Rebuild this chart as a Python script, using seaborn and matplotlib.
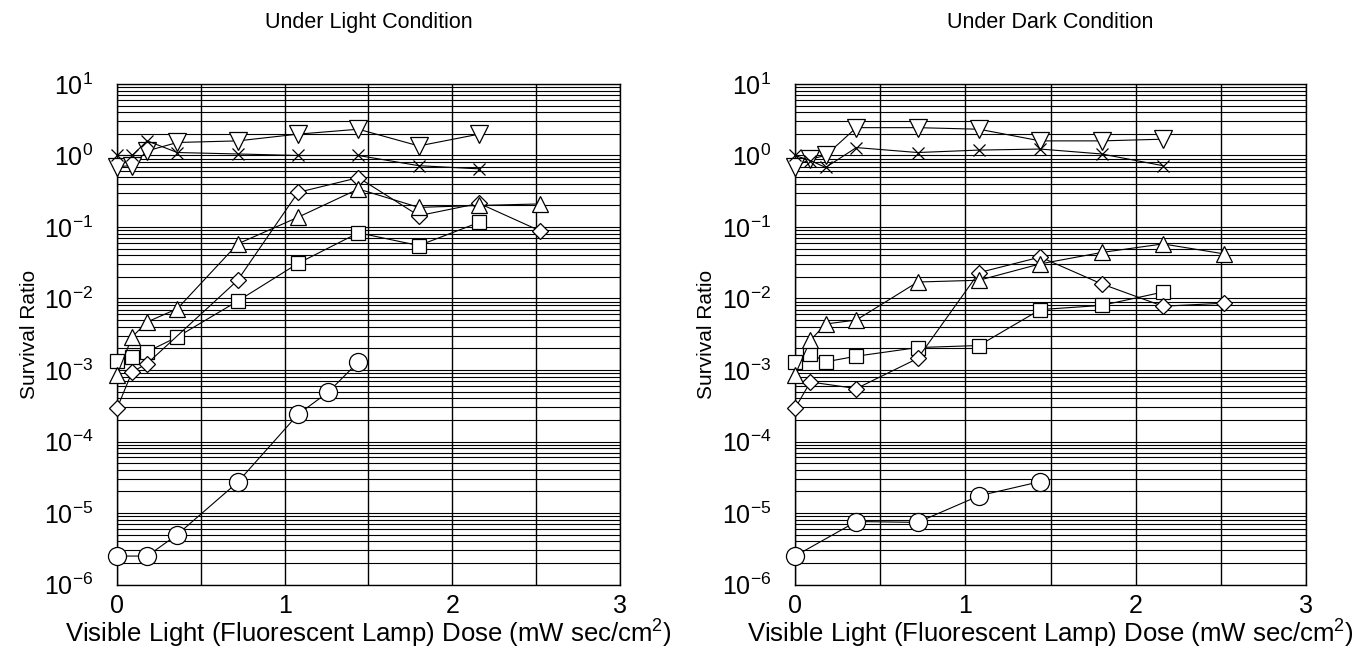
import numpy as np
import pandas as pd
import matplotlib
matplotlib.use('Agg')
import matplotlib.pyplot as plt
from matplotlib.ticker import FixedLocator, LogFormatterSciNotation, MultipleLocator, NullFormatter
import seaborn as sns

# ---- 数据----
# Under Light Condition
light_circle_x = [0, 0.18, 0.36, 0.72, 1.08, 1.26, 1.44]
light_circle_y = [2.5e-6, 2.5e-6, 5.0e-6, 2.7e-5, 2.4e-4, 4.9e-4, 1.3e-3]
light_square_x = [0, 0.09, 0.18, 0.36, 0.72, 1.08, 1.44, 1.80, 2.16]
light_square_y = [1.35e-3, 1.5e-3, 1.8e-3, 2.9e-3, 9.2e-3, 0.031, 0.083, 0.055, 0.116]
light_diamond_x = [0, 0.09, 0.18, 0.72, 1.08, 1.44, 1.80, 2.16, 2.52]
light_diamond_y = [2.9e-4, 9.4e-4, 1.23e-3, 0.018, 0.305, 0.49, 0.144, 0.214, 0.089]
light_tri_up_x = [0, 0.09, 0.18, 0.36, 0.72, 1.08, 1.44, 1.80, 2.16, 2.52]
light_tri_up_y = [8.5e-4, 2.9e-3, 4.7e-3, 7.2e-3, 0.058, 0.137, 0.34, 0.188, 0.2, 0.21]
light_tri_down_x = [0, 0.09, 0.18, 0.36, 0.72, 1.08, 1.44, 1.80, 2.16]
light_tri_down_y = [0.7, 0.72, 1.16, 1.52, 1.6, 1.99, 2.33, 1.36, 1.99]
light_cross_x = [0, 0.09, 0.18, 0.36, 0.72, 1.08, 1.44, 1.80, 2.16]
light_cross_y = [1.0, 1.0, 1.6, 1.1, 1.05, 1.0, 1.0, 0.72, 0.65]

# Under Dark Condition
dark_circle_x = [0, 0.36, 0.72, 1.08, 1.44]
dark_circle_y = [2.5e-6, 7.6e-6, 7.4e-6, 1.74e-5, 2.75e-5]
dark_square_x = [0, 0.09, 0.18, 0.36, 0.72, 1.08, 1.44, 1.80, 2.16]
dark_square_y = [1.3e-3, 1.7e-3, 1.3e-3, 1.56e-3, 2.06e-3, 2.2e-3, 7.0e-3, 8.0e-3, 0.0123]
dark_diamond_x = [0, 0.09, 0.36, 0.72, 1.08, 1.44, 1.80, 2.16, 2.52]
dark_diamond_y = [2.9e-4, 6.8e-4, 5.5e-4, 1.45e-3, 0.023, 0.038, 0.016, 7.8e-3, 8.6e-3]
dark_tri_up_x = [0, 0.09, 0.18, 0.36, 0.72, 1.08, 1.44, 1.80, 2.16, 2.52]
dark_tri_up_y = [8.5e-4, 2.6e-3, 4.4e-3, 5.0e-3, 0.017, 0.018, 0.0305, 0.044, 0.058, 0.042]
dark_tri_down_x = [0, 0.09, 0.18, 0.36, 0.72, 1.08, 1.44, 1.80, 2.16]
dark_tri_down_y = [0.7, 0.89, 1.0, 2.45, 2.45, 2.33, 1.6, 1.6, 1.69]
dark_cross_x = [0, 0.09, 0.18, 0.36, 0.72, 1.08, 1.44, 1.80, 2.16]
dark_cross_y = [1.0, 0.85, 0.68, 1.29, 1.1, 1.19, 1.23, 1.05, 0.72]

titles = ['Under Light Condition', 'Under Dark Condition']
x_label = 'Visible Light (Fluorescent Lamp) Dose (mW sec/cm$^2$)'
y_label = 'Survival Ratio'
y_major_ticks = [1e-6, 1e-5, 1e-4, 1e-3, 1e-2, 1e-1, 1e0, 1e1]

# marker, markersize
marker_style = {
    'circle': ('o', 13),
    'square': ('s', 10),
    'diamond': ('D', 8),
    'tri_up': ('^', 11.5),
    'tri_down': ('v', 12.5),
    'cross': ('x', 9),
}

light_series = {
    'circle': (light_circle_x, light_circle_y),
    'square': (light_square_x, light_square_y),
    'diamond': (light_diamond_x, light_diamond_y),
    'tri_up': (light_tri_up_x, light_tri_up_y),
    'tri_down': (light_tri_down_x, light_tri_down_y),
    'cross': (light_cross_x, light_cross_y),
}
dark_series = {
    'circle': (dark_circle_x, dark_circle_y),
    'square': (dark_square_x, dark_square_y),
    'diamond': (dark_diamond_x, dark_diamond_y),
    'tri_up': (dark_tri_up_x, dark_tri_up_y),
    'tri_down': (dark_tri_down_x, dark_tri_down_y),
    'cross': (dark_cross_x, dark_cross_y),
}

sns.set_theme(style='white')
plt.rcParams['font.family'] = ['Liberation Sans', 'DejaVu Sans']
plt.rcParams['mathtext.fontset'] = 'custom'
plt.rcParams['mathtext.rm'] = 'Liberation Sans'
plt.rcParams['mathtext.it'] = 'Liberation Sans:italic'
plt.rcParams['text.color'] = 'black'
plt.rcParams['axes.labelcolor'] = 'black'


def draw_panel(ax, series, title):
    """绘制一个面板"""
    for name, (xs, ys) in series.items():
        df = pd.DataFrame({'dose': xs, 'ratio': ys})
        marker, ms = marker_style[name]
        sns.lineplot(data=df, x='dose', y='ratio', ax=ax, color='black',
                     linewidth=0.8, marker=marker, markersize=ms,
                     markerfacecolor='white', markeredgecolor='black',
                     markeredgewidth=0.9, errorbar=None, sort=False,
                     zorder=3, clip_on=False)

    ax.set_yscale('log')
    ax.set_xlim(0, 3)
    ax.set_ylim(1e-6, 1e1)
    ax.xaxis.set_major_locator(MultipleLocator(1))
    ax.xaxis.set_minor_locator(MultipleLocator(0.5))
    # 只保留可见范围内的刻度
    minor = [k * t for t in y_major_ticks[:-1] for k in range(2, 10)]
    ax.yaxis.set_major_locator(FixedLocator(y_major_ticks))
    ax.yaxis.set_major_formatter(LogFormatterSciNotation())
    ax.yaxis.set_minor_locator(FixedLocator(minor))
    ax.yaxis.set_minor_formatter(NullFormatter())

    ax.grid(which='both', axis='x', color='black', linewidth=1.0)
    ax.grid(which='both', axis='y', color='black', linewidth=0.8)
    ax.set_axisbelow(True)
    for sp in ax.spines.values():
        sp.set_color('black')
        sp.set_linewidth(1.0)

    ax.tick_params(which='both', length=0, labelsize=18, colors='black')
    ax.tick_params(axis='y', pad=17)
    ax.tick_params(axis='x', pad=7)

    ax.set_title(title, fontsize=15.5, pad=40)
    ax.set_ylabel(y_label, fontsize=15)
    ax.yaxis.set_label_coords(-0.155, 0.5)
    ax.set_xlabel(x_label, fontsize=18.5, labelpad=0)


fig = plt.figure(figsize=(13.62, 6.52), dpi=100)
ax1 = fig.add_axes([0.0859, 0.1035, 0.3693, 0.7677])
ax2 = fig.add_axes([0.5837, 0.1035, 0.3752, 0.7677])

draw_panel(ax1, light_series, titles[0])
draw_panel(ax2, dark_series, titles[1])

fig.savefig('out.png', dpi=100)
plt.close(fig)
